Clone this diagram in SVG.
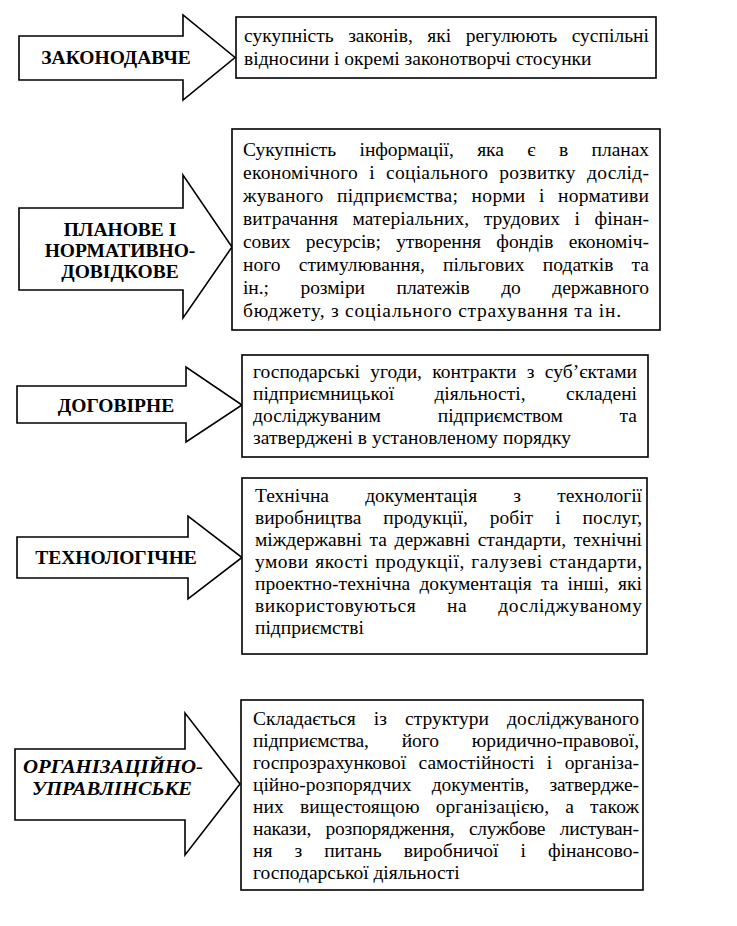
<svg xmlns="http://www.w3.org/2000/svg" width="737" height="926" viewBox="0 0 737 926">
<style>
.bg{fill:#ffffff}
.arrow{fill:#ffffff;stroke:#000000;stroke-width:1.6;stroke-linejoin:miter}
.box{fill:#ffffff;stroke:#000000;stroke-width:1.6}
.lbl{font-family:"Liberation Serif","Times New Roman",serif;font-weight:bold;font-size:19.5px;text-anchor:middle;fill:#000}
.it{font-style:italic}
.txt{font-family:"Liberation Serif","Times New Roman",serif;font-size:19.5px;fill:#000}
</style>
<rect class="bg" x="0" y="0" width="737" height="926"/>

<g id="node-zakonodavche">
  <polygon class="arrow" points="19,36 183,36 183,15 235,57.5 183,100 183,80 19,80"/>
  <text class="lbl" x="116" y="64">ЗАКОНОДАВЧЕ</text>
</g>
<g id="box-zakonodavche">
  <rect class="box" x="236" y="17" width="420" height="61"/>
  <text class="txt" x="244" y="42" word-spacing="9.5" textLength="405" lengthAdjust="spacing">сукупність законів, які регулюють суспільні</text>
  <text class="txt" x="244" y="65">відносини і окремі законотворчі стосунки</text>
</g>

<g id="node-planove">
  <polygon class="arrow" points="19,208 183,208 183,175 232,247 183,318 183,290 19,290"/>
  <text class="lbl" x="120" y="236">ПЛАНОВЕ І</text>
  <text class="lbl" x="120" y="257">НОРМАТИВНО-</text>
  <text class="lbl" x="120" y="278">ДОВІДКОВЕ</text>
</g>
<g id="box-planove">
  <rect class="box" x="232" y="129" width="428" height="201"/>
  <text class="txt" x="243" y="156" word-spacing="18.6" textLength="406" lengthAdjust="spacing">Сукупність інформації, яка є в планах</text>
  <text class="txt" x="243" y="179" word-spacing="6" textLength="406" lengthAdjust="spacing">економічного і соціального розвитку дослід-</text>
  <text class="txt" x="243" y="202" word-spacing="8.2" textLength="406" lengthAdjust="spacing">жуваного підприємства; норми і нормативи</text>
  <text class="txt" x="243" y="225" word-spacing="9.5" textLength="406" lengthAdjust="spacing">витрачання матеріальних, трудових і фінан-</text>
  <text class="txt" x="243" y="248" word-spacing="10.5" textLength="406" lengthAdjust="spacing">сових ресурсів; утворення фондів економіч-</text>
  <text class="txt" x="243" y="271" word-spacing="13.2" textLength="406" lengthAdjust="spacing">ного стимулювання, пільгових податків та</text>
  <text class="txt" x="243" y="294" word-spacing="26.7" textLength="406" lengthAdjust="spacing">ін.; розміри платежів до державного</text>
  <text class="txt" x="243" y="317" textLength="378" lengthAdjust="spacing">бюджету, з соціального страхування та ін.</text>
</g>

<g id="node-dogovirne">
  <polygon class="arrow" points="17,386 186,386 186,367 242,405 186,442 186,423 17,423"/>
  <text class="lbl" x="116" y="412">ДОГОВІРНЕ</text>
</g>
<g id="box-dogovirne">
  <rect class="box" x="242" y="355" width="406" height="102"/>
  <text class="txt" x="253" y="378" word-spacing="5.5" textLength="384" lengthAdjust="spacing">господарські угоди, контракти з суб’єктами</text>
  <text class="txt" x="253" y="400" word-spacing="35.5" textLength="384" lengthAdjust="spacing">підприємницької діяльності, складені</text>
  <text class="txt" x="253" y="422" word-spacing="52" textLength="384" lengthAdjust="spacing">досліджуваним підприємством та</text>
  <text class="txt" x="253" y="444" textLength="318" lengthAdjust="spacing">затверджені в установленому порядку</text>
</g>

<g id="node-tekhnolohichne">
  <polygon class="arrow" points="17,537 188,537 188,516 242,557.5 188,599 188,578 17,578"/>
  <text class="lbl" x="116" y="564">ТЕХНОЛОГІЧНЕ</text>
</g>
<g id="box-tekhnolohichne">
  <rect class="box" x="242" y="478" width="405" height="176"/>
  <text class="txt" x="255" y="502" word-spacing="31.3" textLength="387" lengthAdjust="spacing">Технічна документація з технології</text>
  <text class="txt" x="255" y="524" word-spacing="17.2" textLength="387" lengthAdjust="spacing">виробництва продукції, робіт і послуг,</text>
  <text class="txt" x="255" y="546" word-spacing="2.7" textLength="387" lengthAdjust="spacing">міждержавні та державні стандарти, технічні</text>
  <text class="txt" x="255" y="568" word-spacing="1.2" textLength="387" lengthAdjust="spacing">умови якості продукції, галузеві стандарти,</text>
  <text class="txt" x="255" y="590" word-spacing="4.2" textLength="387" lengthAdjust="spacing">проектно-технічна документація та інші, які</text>
  <text class="txt" x="255" y="612" word-spacing="25.5" textLength="387" lengthAdjust="spacing">використовуються на досліджуваному</text>
  <text class="txt" x="255" y="634">підприємстві</text>
</g>

<g id="node-orhanizatsiine">
  <polygon class="arrow" points="15,749 185,749 185,713 240,784 185,855 185,820 15,820"/>
  <text class="lbl it" x="113" y="773" textLength="180" lengthAdjust="spacingAndGlyphs">ОРГАНІЗАЦІЙНО-</text>
  <text class="lbl it" x="112" y="795" textLength="160" lengthAdjust="spacingAndGlyphs">УПРАВЛІНСЬКЕ</text>
</g>
<g id="box-orhanizatsiine">
  <rect class="box" x="241" y="700" width="402" height="190"/>
  <text class="txt" x="253" y="725" word-spacing="13.3" textLength="386" lengthAdjust="spacing">Складається із структури досліджуваного</text>
  <text class="txt" x="253" y="747" word-spacing="28" textLength="386" lengthAdjust="spacing">підприємства, його юридично-правової,</text>
  <text class="txt" x="253" y="769" word-spacing="7.7" textLength="386" lengthAdjust="spacing">госпрозрахункової самостійності і організа-</text>
  <text class="txt" x="253" y="791" word-spacing="15.5" textLength="386" lengthAdjust="spacing">ційно-розпорядчих документів, затвердже-</text>
  <text class="txt" x="253" y="813" word-spacing="11" textLength="386" lengthAdjust="spacing">них вищестоящою організацією, а також</text>
  <text class="txt" x="253" y="835" word-spacing="10" textLength="386" lengthAdjust="spacing">накази, розпорядження, службове листуван-</text>
  <text class="txt" x="253" y="857" word-spacing="17.2" textLength="386" lengthAdjust="spacing">ня з питань виробничої і фінансово-</text>
  <text class="txt" x="253" y="879">господарської діяльності</text>
</g>
</svg>
